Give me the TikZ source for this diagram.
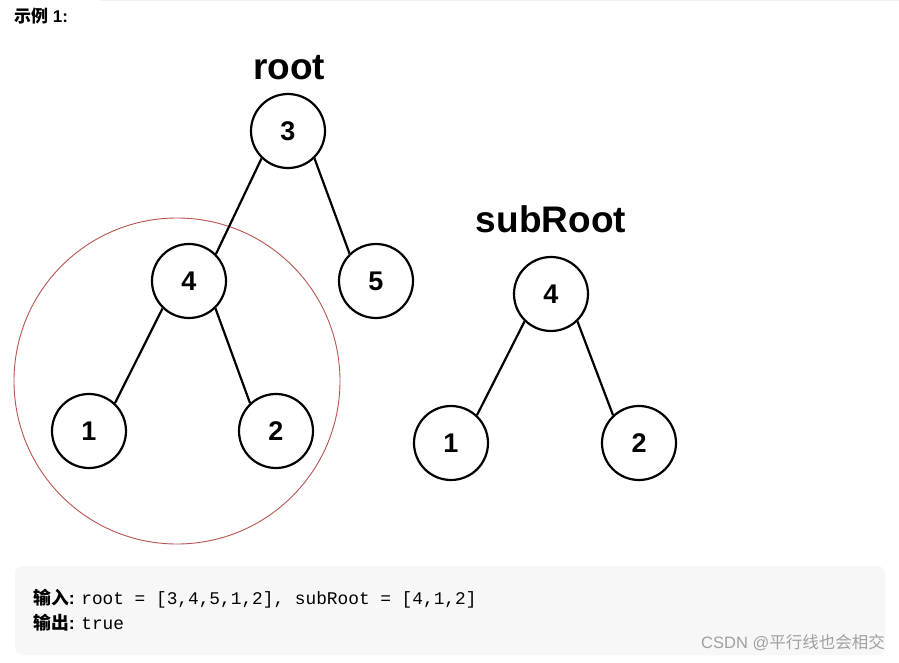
\documentclass[tikz,border=0pt]{standalone}
\usepackage{fontspec}
\setmainfont{Liberation Sans}
\setmonofont{Liberation Mono}
\newfontfamily\cjk{Noto Sans CJK SC}
\definecolor{redc}{HTML}{B85450}
\definecolor{boxbg}{HTML}{F7F7F8}
\definecolor{wm}{HTML}{A0A0A0}
\begin{document}
\begin{tikzpicture}[x=1pt,y=-1pt,
  tn/.style={circle,draw=black,line width=2.2pt,minimum size=74pt,inner sep=0pt,
    font=\fontsize{27}{27}\selectfont\bfseries},
  edge/.style={line width=2.2pt},
  lbl/.style={font=\fontsize{37}{37}\selectfont\bfseries,inner sep=0pt}]
\useasboundingbox (0,0) rectangle (899,663);
\fill[white] (0,0) rectangle (899,663);
\draw[black!6,line width=1pt] (100,1) -- (899,1);
\node[anchor=north west,inner sep=0pt,font=\fontsize{17}{17}\selectfont\bfseries] (title) at (14,8) {{\cjk 示例} 1:};
% red highlight circle
\draw[redc,line width=0.9pt] (177,381) circle (163);
% tree 1
\node[lbl] (lroot) at (289,68) {root};
\node[tn] (r3) at (288,131) {3};
\node[tn] (r4) at (189,281) {4};
\node[tn] (r5) at (376,281) {5};
\node[tn] (r1) at (89,431) {1};
\node[tn] (r2) at (276,431) {2};
\draw[edge] (r3.226) -- (r4.45);
\draw[edge] (r3.314) -- (r5.134);
\draw[edge] (r4.226) -- (r1.47);
\draw[edge] (r4.314) -- (r2.133);
% tree 2
\node[lbl] (lsub) at (551,219) {subRoot};
\node[tn] (s4) at (551,294) {4};
\node[tn] (s1) at (451,443) {1};
\node[tn] (s2) at (639,443) {2};
\draw[edge] (s4.226) -- (s1.47);
\draw[edge] (s4.314) -- (s2.133);
% bottom box
\fill[boxbg,rounded corners=8pt] (15,566) rectangle (885,655);
\node[anchor=base west,inner sep=0pt,font=\fontsize{17.8}{17.8}\selectfont] (in) at (33,604)
  {{\cjk\bfseries 输入}\textbf{:} \ttfamily root = [3,4,5,1,2], subRoot = [4,1,2]};
\node[anchor=base west,inner sep=0pt,font=\fontsize{17.8}{17.8}\selectfont] (out) at (33,629)
  {{\cjk\bfseries 输出}\textbf{:} \ttfamily true};
\node[anchor=base east,inner sep=0pt,text=wm,font=\fontsize{16.5}{16.5}\selectfont] (wmk) at (885,648)
  {CSDN @{\cjk 平行线也会相交}};
\end{tikzpicture}
\end{document}
